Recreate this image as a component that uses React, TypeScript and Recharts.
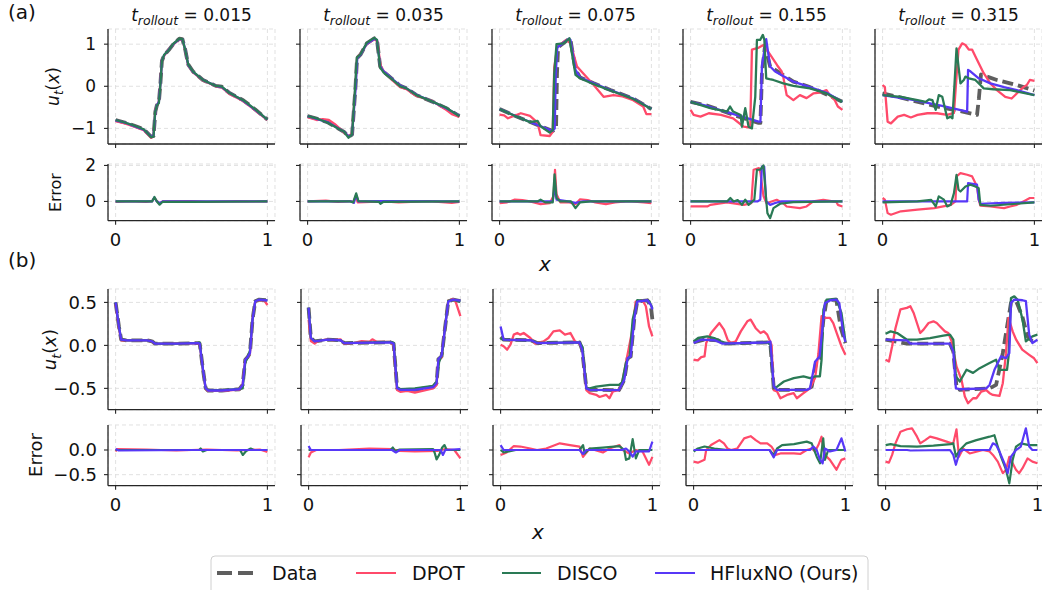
import { LineChart, Line, XAxis, YAxis, CartesianGrid } from "recharts"

type Pt = [number, number]

const FONT = "'DejaVu Sans', sans-serif"
const RED = "#ff4a6a"
const GREEN = "#2a7a55"
const BLUE = "#5738f7"
const GRAY = "#5e5e5e"
const AXIS = "#262626"

const rollouts = ["0.015", "0.035", "0.075", "0.155", "0.315"]
const xTicks = [0, 1]
const aMainTicks = [-1, 0, 1]
const aErrTicks = [0, 2]
const bMainTicks = [-0.5, 0, 0.5]
const bErrTicks = [-0.5, 0]
const legendNames = ["Data", "DPOT", "DISCO", "HFluxNO (Ours)"]

// ---- (a) t = 0.015
const a1Data: Pt[] = [[0,-0.8],[0.06,-0.86],[0.12,-0.93],[0.185,-1.02],[0.235,-1.2],[0.25,-1.18],[0.262,-0.6],[0.272,-0.45],[0.285,-0.38],[0.295,0.05],[0.305,0.6],[0.32,0.74],[0.35,0.86],[0.38,1.0],[0.42,1.13],[0.44,1.12],[0.458,0.88],[0.478,0.52],[0.51,0.35],[0.575,0.15],[0.66,0.01],[0.7,-0.01],[0.75,-0.16],[0.84,-0.33],[0.92,-0.55],[1,-0.79]]
const a1Dpot: Pt[] = [[0,-0.83],[0.06,-0.88],[0.12,-0.95],[0.185,-1.04],[0.235,-1.22],[0.25,-1.15],[0.262,-0.55],[0.272,-0.47],[0.285,-0.36],[0.295,0.08],[0.305,0.62],[0.32,0.72],[0.35,0.88],[0.38,0.99],[0.42,1.12],[0.44,1.11],[0.458,0.86],[0.478,0.5],[0.51,0.33],[0.575,0.14],[0.66,0.0],[0.7,-0.03],[0.75,-0.18],[0.84,-0.35],[0.92,-0.57],[1,-0.8]]
const a1Disco: Pt[] = [[0,-0.8],[0.06,-0.86],[0.12,-0.93],[0.185,-1.02],[0.235,-1.21],[0.25,-1.19],[0.26,-0.62],[0.272,-0.46],[0.285,-0.4],[0.295,0.04],[0.305,0.6],[0.32,0.75],[0.35,0.86],[0.38,1.01],[0.42,1.13],[0.44,1.12],[0.458,0.87],[0.478,0.52],[0.51,0.35],[0.575,0.15],[0.66,0.01],[0.7,-0.01],[0.75,-0.16],[0.84,-0.33],[0.92,-0.55],[1,-0.79]]
const a1Hflux: Pt[] = [[0,-0.81],[0.06,-0.86],[0.12,-0.94],[0.185,-1.03],[0.235,-1.2],[0.25,-1.17],[0.262,-0.58],[0.272,-0.45],[0.285,-0.37],[0.295,0.06],[0.305,0.61],[0.32,0.74],[0.35,0.87],[0.38,1.0],[0.42,1.12],[0.44,1.12],[0.458,0.88],[0.478,0.51],[0.51,0.34],[0.575,0.15],[0.66,0.01],[0.7,-0.02],[0.75,-0.16],[0.84,-0.34],[0.92,-0.56],[1,-0.79]]
const a1ErrDpot: Pt[] = [[0,-0.02],[0.1,0.02],[0.2,-0.03],[0.24,0.02],[0.255,0.2],[0.27,0.05],[0.29,-0.12],[0.31,0.0],[0.5,0.02],[0.6,-0.02],[0.8,0.02],[1,0]]
const a1ErrDisco: Pt[] = [[0,0],[0.24,0],[0.256,0.25],[0.272,0.0],[0.29,-0.18],[0.31,-0.02],[0.5,-0.02],[1,0]]
const a1ErrHflux: Pt[] = [[0,0],[0.24,0],[0.255,0.22],[0.27,0.02],[0.29,-0.1],[0.31,0],[1,0]]

// ---- (a) t = 0.035
const a2Data: Pt[] = [[0,-0.71],[0.065,-0.77],[0.13,-0.85],[0.24,-1.08],[0.27,-1.2],[0.293,-1.15],[0.315,-0.05],[0.326,0.67],[0.348,0.75],[0.39,1.02],[0.44,1.14],[0.457,1.1],[0.478,0.47],[0.5,0.35],[0.565,0.15],[0.61,0.01],[0.652,-0.05],[0.717,-0.21],[0.826,-0.37],[0.913,-0.52],[1,-0.71]]
const a2Dpot: Pt[] = [[0,-0.73],[0.06,-0.8],[0.1,-0.78],[0.14,-0.8],[0.18,-0.9],[0.24,-1.1],[0.27,-1.18],[0.293,-1.13],[0.315,0.0],[0.326,0.68],[0.348,0.77],[0.39,1.0],[0.44,1.12],[0.46,1.06],[0.48,0.5],[0.5,0.37],[0.565,0.12],[0.61,-0.02],[0.652,-0.07],[0.717,-0.23],[0.826,-0.36],[0.913,-0.56],[0.95,-0.66],[1,-0.73]]
const a2Disco: Pt[] = [[0,-0.71],[0.065,-0.77],[0.13,-0.86],[0.24,-1.08],[0.27,-1.22],[0.293,-1.14],[0.313,-0.02],[0.324,0.68],[0.348,0.76],[0.39,1.03],[0.44,1.15],[0.457,1.1],[0.478,0.45],[0.5,0.33],[0.565,0.14],[0.61,0.0],[0.652,-0.05],[0.717,-0.21],[0.826,-0.37],[0.913,-0.51],[1,-0.71]]
const a2Hflux: Pt[] = [[0,-0.71],[0.065,-0.78],[0.13,-0.85],[0.24,-1.08],[0.27,-1.19],[0.293,-1.15],[0.316,-0.05],[0.327,0.67],[0.348,0.75],[0.39,1.01],[0.44,1.13],[0.457,1.1],[0.478,0.48],[0.5,0.36],[0.565,0.15],[0.61,0.02],[0.652,-0.05],[0.717,-0.2],[0.826,-0.37],[0.913,-0.52],[1,-0.7]]
const a2ErrDpot: Pt[] = [[0,0],[0.12,0.05],[0.2,-0.02],[0.28,0.02],[0.3,-0.05],[0.318,0.3],[0.33,-0.05],[0.5,0],[0.6,-0.05],[0.8,0.02],[0.95,-0.08],[1,-0.02]]
const a2ErrDisco: Pt[] = [[0,0],[0.28,0],[0.3,-0.05],[0.32,0.45],[0.335,0.02],[0.47,-0.02],[0.48,-0.13],[0.5,-0.02],[1,0]]
const a2ErrHflux: Pt[] = [[0,0],[0.29,0],[0.305,-0.08],[0.32,0.35],[0.335,0],[0.5,0.02],[1,0]]

// ---- (a) t = 0.075
const a3Data: Pt[] = [[0,-0.54],[0.14,-0.76],[0.25,-0.92],[0.35,-1.06],[0.372,-1.0],[0.378,0.3],[0.385,0.9],[0.39,0.94],[0.457,1.13],[0.467,1.1],[0.5,0.39],[0.53,0.21],[0.62,0.07],[0.73,-0.09],[0.88,-0.29],[1,-0.54]]
const a3Dpot: Pt[] = [[0,-0.67],[0.03,-0.69],[0.055,-0.76],[0.14,-0.64],[0.2,-0.7],[0.25,-0.86],[0.27,-1.16],[0.33,-1.18],[0.35,-1.08],[0.36,0.45],[0.38,0.94],[0.44,1.1],[0.467,1.02],[0.51,0.47],[0.55,0.31],[0.62,0.03],[0.685,-0.25],[0.75,-0.21],[0.81,-0.24],[0.88,-0.33],[0.946,-0.48],[0.967,-0.66],[1,-0.66]]
const a3Disco: Pt[] = [[0,-0.54],[0.1,-0.7],[0.2,-0.85],[0.25,-0.82],[0.27,-0.95],[0.33,-1.1],[0.35,-1.04],[0.36,0.3],[0.375,1.0],[0.42,1.02],[0.46,1.14],[0.5,0.27],[0.53,0.19],[0.62,0.05],[0.73,-0.1],[0.88,-0.3],[1,-0.54]]
const a3Hflux: Pt[] = [[0,-0.54],[0.14,-0.76],[0.25,-0.92],[0.348,-1.06],[0.363,-1.0],[0.37,0.3],[0.38,0.92],[0.457,1.13],[0.467,1.1],[0.5,0.39],[0.53,0.21],[0.62,0.07],[0.73,-0.09],[0.88,-0.29],[1,-0.54]]
const a3ErrDpot: Pt[] = [[0,-0.1],[0.05,-0.05],[0.1,0.1],[0.15,0.08],[0.2,0.0],[0.27,-0.15],[0.33,-0.1],[0.355,0.3],[0.365,1.75],[0.375,0.4],[0.4,-0.05],[0.46,-0.05],[0.5,-0.15],[0.53,0.12],[0.58,0.08],[0.63,-0.05],[0.7,-0.15],[0.76,-0.05],[0.85,0.02],[0.95,-0.05],[1,-0.1]]
const a3ErrDisco: Pt[] = [[0,0],[0.25,0.0],[0.27,0.1],[0.3,-0.05],[0.35,-0.05],[0.362,1.5],[0.375,0.2],[0.4,0.0],[0.47,0.0],[0.5,-0.37],[0.53,-0.05],[0.6,0.0],[1,0]]
const a3ErrHflux: Pt[] = [[0,0],[0.35,0],[0.365,0.9],[0.375,0.1],[0.45,0],[0.5,-0.08],[0.55,0],[1,0]]

// ---- (a) t = 0.155
const a4Data: Pt[] = [[0,-0.37],[0.1,-0.45],[0.2,-0.57],[0.3,-0.7],[0.448,-0.87],[0.46,-0.87],[0.47,0.3],[0.49,0.95],[0.524,0.47],[0.557,0.39],[0.677,0.11],[0.786,-0.02],[0.9,-0.2],[1,-0.37]]
const a4Dpot: Pt[] = [[0,-0.56],[0.02,-0.68],[0.065,-0.72],[0.12,-0.64],[0.2,-0.68],[0.28,-0.76],[0.35,-0.96],[0.393,-0.98],[0.404,0.87],[0.45,0.92],[0.48,0.98],[0.524,0.75],[0.57,0.5],[0.6,0.35],[0.61,0.23],[0.633,-0.21],[0.677,-0.33],[0.72,-0.21],[0.764,-0.28],[0.808,-0.17],[0.852,-0.15],[0.895,-0.09],[0.917,-0.21],[0.95,-0.33],[0.97,-0.48],[1,-0.56]]
const a4Disco: Pt[] = [[0,-0.37],[0.13,-0.52],[0.24,-0.6],[0.26,-0.48],[0.28,-0.6],[0.33,-0.68],[0.338,-0.96],[0.36,-0.52],[0.382,-0.96],[0.404,-1.0],[0.426,-0.25],[0.437,1.1],[0.458,1.1],[0.476,1.22],[0.486,1.1],[0.498,0.19],[0.52,0.17],[0.545,0.15],[0.611,0.07],[0.677,0.01],[0.786,-0.05],[0.895,-0.17],[1,-0.37]]
const a4Hflux: Pt[] = [[0,-0.37],[0.1,-0.46],[0.2,-0.57],[0.3,-0.68],[0.448,-0.84],[0.46,-0.84],[0.47,0.5],[0.498,1.12],[0.524,0.47],[0.557,0.35],[0.677,0.11],[0.786,-0.02],[0.9,-0.16],[1,-0.37]]
const a4ErrDpot: Pt[] = [[0,-0.28],[0.11,-0.28],[0.13,-0.19],[0.24,-0.05],[0.35,-0.19],[0.4,-0.1],[0.415,1.76],[0.45,1.85],[0.46,1.6],[0.48,0.3],[0.5,-0.1],[0.567,0.09],[0.61,-0.1],[0.633,-0.28],[0.72,-0.37],[0.764,-0.28],[0.808,0.0],[0.874,0.09],[0.96,-0.02],[0.97,-0.19],[1,-0.28]]
const a4ErrDisco: Pt[] = [[0,0],[0.24,0],[0.262,0.19],[0.284,0],[0.31,0.08],[0.338,-0.19],[0.36,0.1],[0.382,-0.19],[0.42,0.1],[0.437,1.76],[0.458,1.76],[0.48,2.0],[0.498,0.1],[0.506,-0.65],[0.524,-0.93],[0.546,-0.37],[0.59,-0.13],[0.677,-0.04],[1,0]]
const a4ErrHflux: Pt[] = [[0,0],[0.44,0],[0.459,0.09],[0.47,1.94],[0.485,1.94],[0.498,0.0],[0.524,-0.19],[0.557,-0.09],[0.6,0],[1,0]]

// ---- (a) t = 0.315
const a5Data: Pt[] = [[0,-0.17],[0.1,-0.25],[0.2,-0.34],[0.3,-0.43],[0.4,-0.51],[0.5,-0.58],[0.622,-0.68],[0.634,-0.3],[0.648,0.28],[0.753,0.15],[0.884,0.03],[1,-0.1]]
const a5Dpot: Pt[] = [[0,0.03],[0.015,-0.02],[0.033,-0.84],[0.055,-0.88],[0.1,-0.72],[0.142,-0.68],[0.186,-0.74],[0.23,-0.68],[0.295,-0.64],[0.36,-0.64],[0.426,-0.68],[0.47,-0.63],[0.487,0.23],[0.5,0.87],[0.524,1.02],[0.546,0.98],[0.568,0.87],[0.59,0.87],[0.622,0.63],[0.666,0.31],[0.71,0.07],[0.753,-0.09],[0.808,-0.25],[0.85,-0.29],[0.884,-0.17],[0.928,-0.02],[0.95,0.03],[0.97,0.15],[1,0.13]]
const a5Disco: Pt[] = [[0,-0.21],[0.12,-0.25],[0.23,-0.33],[0.284,-0.37],[0.306,-0.31],[0.328,-0.33],[0.35,-0.56],[0.37,-0.21],[0.393,-0.25],[0.426,-0.76],[0.448,-0.72],[0.46,-0.76],[0.474,0.07],[0.487,0.9],[0.5,0.47],[0.513,0.07],[0.535,0.15],[0.546,0.23],[0.568,0.19],[0.611,0.15],[0.644,0.03],[0.666,-0.05],[0.73,-0.07],[0.84,-0.09],[1,-0.21]]
const a5Hflux: Pt[] = [[0,-0.21],[0.2,-0.32],[0.4,-0.47],[0.557,-0.6],[0.563,0.39],[0.58,0.35],[0.633,0.19],[0.71,0.07],[0.8,-0.02],[0.884,-0.09],[1,-0.21]]
const a5ErrDpot: Pt[] = [[0,0.19],[0.015,0.1],[0.033,-0.65],[0.055,-0.74],[0.12,-0.55],[0.23,-0.46],[0.34,-0.37],[0.45,-0.19],[0.48,0.0],[0.487,1.39],[0.513,1.57],[0.557,1.48],[0.59,1.39],[0.611,1.02],[0.622,0.83],[0.633,0.1],[0.644,-0.24],[0.71,-0.28],[0.8,-0.37],[0.84,-0.28],[0.884,-0.19],[0.928,0],[0.97,0.19],[1,0.19]]
const a5ErrDisco: Pt[] = [[0,-0.05],[0.23,0],[0.32,0.09],[0.35,-0.28],[0.37,0.28],[0.404,0.1],[0.426,-0.28],[0.448,-0.19],[0.47,0.46],[0.487,1.48],[0.5,0.65],[0.513,0.55],[0.546,0.83],[0.579,0.93],[0.611,0.83],[0.633,0.74],[0.644,-0.19],[0.71,-0.24],[0.884,-0.13],[1,-0.05]]
const a5ErrHflux: Pt[] = [[0,0],[0.557,0],[0.563,1.02],[0.622,0.93],[0.633,0.1],[0.644,-0.13],[0.8,-0.08],[1,-0.05]]

// ---- (b) t = 0.015
const b1Data: Pt[] = [[0,0.5],[0.022,0.22],[0.037,0.066],[0.076,0.058],[0.207,0.058],[0.24,0.047],[0.26,0.02],[0.4,0.02],[0.543,0.027],[0.554,0.02],[0.576,-0.285],[0.593,-0.498],[0.609,-0.525],[0.7,-0.525],[0.815,-0.51],[0.837,-0.46],[0.854,-0.167],[0.87,-0.136],[0.885,-0.09],[0.902,0.3],[0.92,0.514],[0.946,0.533],[0.99,0.525],[1,0.52]]
const b1Dpot: Pt[] = [[0,0.48],[0.022,0.2],[0.037,0.06],[0.076,0.062],[0.15,0.055],[0.207,0.062],[0.24,0.045],[0.26,0.018],[0.4,0.024],[0.543,0.025],[0.554,0.018],[0.576,-0.29],[0.593,-0.505],[0.609,-0.53],[0.7,-0.53],[0.815,-0.515],[0.837,-0.46],[0.854,-0.17],[0.87,-0.14],[0.885,-0.09],[0.902,0.31],[0.92,0.51],[0.946,0.53],[0.98,0.52],[1,0.47]]
const b1Disco: Pt[] = [[0,0.5],[0.022,0.22],[0.037,0.066],[0.076,0.058],[0.207,0.058],[0.24,0.047],[0.26,0.02],[0.4,0.02],[0.543,0.03],[0.554,0.035],[0.576,-0.29],[0.593,-0.5],[0.609,-0.52],[0.7,-0.52],[0.815,-0.505],[0.837,-0.5],[0.854,-0.2],[0.87,-0.14],[0.885,-0.06],[0.902,0.3],[0.92,0.514],[0.946,0.533],[0.99,0.525],[1,0.52]]
const b1Hflux: Pt[] = [[0,0.5],[0.022,0.22],[0.037,0.066],[0.076,0.058],[0.207,0.058],[0.24,0.047],[0.26,0.02],[0.4,0.02],[0.543,0.027],[0.554,0.02],[0.576,-0.285],[0.593,-0.498],[0.609,-0.525],[0.7,-0.525],[0.815,-0.51],[0.837,-0.46],[0.854,-0.167],[0.87,-0.136],[0.885,-0.09],[0.902,0.3],[0.92,0.514],[0.946,0.533],[0.99,0.525],[1,0.52]]
const b1ErrDpot: Pt[] = [[0,-0.03],[0.01,0.02],[0.2,0.01],[0.4,-0.01],[0.6,0.01],[0.8,-0.01],[0.95,0.01],[1,-0.04]]
const b1ErrDisco: Pt[] = [[0,0],[0.55,0],[0.56,0.03],[0.575,-0.03],[0.6,0],[0.82,0],[0.838,-0.1],[0.86,-0.02],[0.89,0.03],[0.91,0],[1,0]]
const b1ErrHflux: Pt[] = [[0,0.02],[0.02,-0.01],[0.5,0],[1,0]]

// ---- (b) t = 0.035
const b2Data: Pt[] = [[0,0.44],[0.015,0.086],[0.04,0.047],[0.126,0.066],[0.21,0.06],[0.235,0.027],[0.54,0.035],[0.56,0.02],[0.583,-0.498],[0.604,-0.517],[0.7,-0.517],[0.82,-0.486],[0.843,-0.44],[0.855,-0.16],[0.876,-0.128],[0.9,0.22],[0.92,0.51],[0.952,0.533],[1,0.514]]
const b2Dpot: Pt[] = [[0,0.3],[0.015,0.05],[0.04,0.02],[0.06,0.05],[0.12,0.07],[0.16,0.06],[0.21,0.07],[0.235,0.02],[0.3,0.03],[0.35,0.05],[0.4,0.04],[0.42,0.07],[0.45,0.04],[0.54,0.04],[0.56,0.0],[0.583,-0.52],[0.604,-0.54],[0.65,-0.53],[0.7,-0.55],[0.75,-0.53],[0.82,-0.5],[0.843,-0.46],[0.855,-0.18],[0.876,-0.14],[0.9,0.24],[0.92,0.52],[0.952,0.54],[0.97,0.5],[1,0.34]]
const b2Disco: Pt[] = [[0,0.44],[0.015,0.086],[0.04,0.05],[0.126,0.066],[0.21,0.06],[0.235,0.027],[0.54,0.04],[0.56,0.03],[0.583,-0.49],[0.604,-0.51],[0.7,-0.5],[0.82,-0.47],[0.843,-0.42],[0.86,-0.19],[0.88,-0.1],[0.9,0.24],[0.92,0.52],[0.952,0.53],[1,0.51]]
const b2Hflux: Pt[] = [[0,0.44],[0.015,0.086],[0.04,0.047],[0.126,0.066],[0.21,0.06],[0.235,0.027],[0.54,0.035],[0.56,0.02],[0.583,-0.498],[0.604,-0.517],[0.7,-0.517],[0.82,-0.486],[0.843,-0.44],[0.855,-0.16],[0.876,-0.12],[0.9,0.22],[0.92,0.51],[0.952,0.533],[1,0.52]]
const b2ErrDpot: Pt[] = [[0,-0.15],[0.015,-0.05],[0.05,0.0],[0.2,0.0],[0.4,0.03],[0.55,0.02],[0.6,-0.02],[0.7,-0.03],[0.85,-0.02],[0.9,0.02],[0.96,0.0],[1,-0.17]]
const b2ErrDisco: Pt[] = [[0,0],[0.54,0],[0.555,0.05],[0.57,-0.02],[0.6,0.01],[0.82,0.02],[0.83,-0.05],[0.843,-0.19],[0.86,-0.1],[0.88,0.05],[0.895,0.1],[0.91,0.0],[1,0]]
const b2ErrHflux: Pt[] = [[0,0.08],[0.015,0.0],[0.55,0],[0.575,-0.05],[0.6,0],[0.87,0],[0.885,-0.1],[0.9,0],[1,0.02]]

// ---- (b) t = 0.075
const b3Data: Pt[] = [[0,0.1],[0.02,0.066],[0.2,0.06],[0.24,0.027],[0.52,0.035],[0.537,-0.05],[0.565,-0.5],[0.587,-0.517],[0.78,-0.52],[0.815,-0.4],[0.837,-0.148],[0.857,-0.13],[0.88,0.3],[0.9,0.51],[0.967,0.525],[0.99,0.455],[1,0.3]]
const b3Dpot: Pt[] = [[0,0.008],[0.02,-0.01],[0.043,-0.05],[0.065,0.008],[0.087,0.125],[0.11,0.144],[0.13,0.125],[0.152,0.144],[0.196,0.086],[0.228,0.02],[0.283,0.047],[0.315,0.086],[0.348,0.163],[0.39,0.175],[0.424,0.125],[0.46,0.144],[0.49,0.047],[0.522,0.02],[0.54,-0.05],[0.565,-0.52],[0.587,-0.556],[0.63,-0.575],[0.652,-0.6],[0.695,-0.575],[0.717,-0.615],[0.74,-0.535],[0.78,-0.52],[0.8,-0.44],[0.826,-0.2],[0.848,0.0],[0.87,0.2],[0.89,0.51],[0.935,0.525],[0.957,0.455],[0.978,0.22],[1,0.105]]
const b3Disco: Pt[] = [[0,0.08],[0.02,0.066],[0.2,0.06],[0.24,0.03],[0.52,0.035],[0.54,-0.02],[0.565,-0.5],[0.587,-0.5],[0.63,-0.48],[0.72,-0.46],[0.78,-0.46],[0.8,-0.43],[0.826,-0.2],[0.85,-0.13],[0.87,0.3],[0.9,0.525],[0.98,0.515],[1,0.43]]
const b3Hflux: Pt[] = [[0,0.22],[0.02,0.066],[0.2,0.06],[0.24,0.027],[0.52,0.035],[0.537,-0.05],[0.565,-0.5],[0.587,-0.517],[0.78,-0.52],[0.815,-0.4],[0.837,-0.148],[0.857,-0.13],[0.88,0.3],[0.9,0.51],[0.967,0.525],[0.99,0.47],[1,0.42]]
const b3ErrDpot: Pt[] = [[0,-0.1],[0.04,-0.05],[0.087,0.08],[0.13,0.07],[0.196,0.03],[0.24,0.0],[0.3,0.03],[0.39,0.135],[0.457,0.1],[0.52,0.07],[0.543,-0.14],[0.587,0.03],[0.674,-0.05],[0.717,0.03],[0.783,0.1],[0.804,0.0],[0.848,-0.07],[0.891,0.0],[0.935,-0.03],[0.978,-0.3],[1,-0.14]]
const b3ErrDisco: Pt[] = [[0,0],[0.02,-0.05],[0.1,0],[0.52,0],[0.543,0.1],[0.554,-0.07],[0.587,0.03],[0.674,0.05],[0.783,0.08],[0.815,0],[0.826,-0.2],[0.848,-0.17],[0.87,0.22],[0.891,-0.17],[0.913,0],[1,0]]
const b3ErrHflux: Pt[] = [[0,0.1],[0.02,0],[0.52,0],[0.543,-0.08],[0.565,0],[0.8,0],[0.826,0.03],[0.848,-0.03],[0.87,-0.135],[0.891,-0.03],[0.978,-0.03],[1,0.17]]

// ---- (b) t = 0.155
const b4Data: Pt[] = [[0,0.035],[0.07,0.066],[0.16,0.06],[0.2,0.02],[0.485,0.035],[0.506,0.01],[0.528,-0.5],[0.55,-0.517],[0.745,-0.517],[0.778,-0.48],[0.81,-0.167],[0.83,-0.15],[0.855,0.3],[0.876,0.525],[0.94,0.533],[0.97,0.2],[1,0.027]]
const b4Dpot: Pt[] = [[0,-0.167],[0.028,-0.175],[0.05,-0.136],[0.072,-0.128],[0.083,0.027],[0.115,0.144],[0.17,0.26],[0.2,0.183],[0.224,0.066],[0.246,0.027],[0.278,0.047],[0.311,0.163],[0.354,0.28],[0.376,0.3],[0.409,0.2],[0.441,0.144],[0.463,0.163],[0.485,0.125],[0.513,0.008],[0.528,-0.52],[0.55,-0.537],[0.572,-0.615],[0.615,-0.576],[0.659,-0.556],[0.68,-0.615],[0.724,-0.556],[0.767,-0.5],[0.8,-0.38],[0.822,-0.1],[0.843,0.34],[0.865,0.32],[0.898,0.32],[0.92,0.26],[0.943,0.144],[0.974,-0.01],[1,-0.11]]
const b4Disco: Pt[] = [[0,0.047],[0.03,0.086],[0.09,0.105],[0.136,0.086],[0.18,0.047],[0.22,0.02],[0.485,0.035],[0.506,0.008],[0.528,-0.5],[0.55,-0.48],[0.595,-0.42],[0.66,-0.38],[0.724,-0.36],[0.767,-0.38],[0.8,-0.36],[0.832,-0.36],[0.843,-0.167],[0.855,0.416],[0.876,0.533],[0.94,0.54],[0.974,0.377],[1,0.047]]
const b4Hflux: Pt[] = [[0,0.027],[0.05,0.066],[0.14,0.06],[0.19,0.02],[0.485,0.035],[0.506,0.045],[0.528,-0.48],[0.55,-0.517],[0.745,-0.517],[0.767,-0.5],[0.8,-0.19],[0.83,-0.128],[0.865,0.49],[0.9,0.525],[0.94,0.533],[0.96,0.49],[0.985,0.144],[1,0.04]]
const b4ErrDpot: Pt[] = [[0,-0.236],[0.028,-0.257],[0.072,-0.2],[0.083,0.0],[0.115,0.1],[0.17,0.2],[0.2,0.135],[0.224,0.03],[0.246,0.0],[0.287,0.03],[0.333,0.236],[0.376,0.28],[0.409,0.2],[0.441,0.135],[0.485,0.135],[0.513,0.07],[0.528,0.0],[0.54,-0.1],[0.572,-0.07],[0.66,-0.07],[0.702,-0.08],[0.745,0.0],[0.778,0.03],[0.8,-0.03],[0.822,0.1],[0.843,0.27],[0.854,0.0],[0.876,-0.135],[0.898,-0.2],[0.941,-0.4],[0.974,-0.2],[1,-0.17]]
const b4ErrDisco: Pt[] = [[0,-0.03],[0.028,0.03],[0.072,0.07],[0.137,0.03],[0.224,0],[0.5,0],[0.528,-0.1],[0.55,0.03],[0.583,0.1],[0.661,0.12],[0.745,0.17],[0.778,0.135],[0.811,-0.135],[0.833,-0.27],[0.854,0.236],[0.865,-0.2],[0.887,0],[1,0]]
const b4ErrHflux: Pt[] = [[0,0],[0.5,0],[0.528,-0.15],[0.55,0],[0.767,0],[0.789,0.07],[0.811,0],[0.833,-0.2],[0.85,-0.27],[0.865,0.03],[0.898,-0.03],[0.941,0],[0.974,0.236],[1,-0.03]]

// ---- (b) t = 0.315
const b5Data: Pt[] = [[0,0.066],[0.14,0.02],[0.424,0.02],[0.446,-0.07],[0.467,-0.48],[0.489,-0.517],[0.685,-0.5],[0.728,-0.46],[0.772,-0.09],[0.804,0.26],[0.826,0.494],[0.86,0.514],[0.9,0.34],[0.935,0.105],[0.967,0.047],[1,0.047]]
const b5Dpot: Pt[] = [[0,-0.167],[0.022,-0.187],[0.043,-0.01],[0.065,0.2],[0.098,0.42],[0.14,0.436],[0.163,0.455],[0.185,0.377],[0.228,0.144],[0.25,0.183],[0.283,0.26],[0.315,0.28],[0.337,0.26],[0.359,0.22],[0.391,0.163],[0.413,0.144],[0.435,0.047],[0.467,-0.245],[0.5,-0.4],[0.522,-0.595],[0.543,-0.673],[0.576,-0.615],[0.598,-0.615],[0.63,-0.537],[0.663,-0.52],[0.685,-0.556],[0.707,-0.576],[0.75,-0.588],[0.772,-0.44],[0.793,-0.09],[0.81,0.32],[0.837,0.163],[0.86,0.066],[0.9,-0.05],[0.946,-0.11],[0.978,-0.15],[1,-0.206]]
const b5Disco: Pt[] = [[0,0.136],[0.033,0.163],[0.076,0.144],[0.141,0.066],[0.207,0.066],[0.293,0.085],[0.38,0.113],[0.424,0.125],[0.446,0.066],[0.463,-0.36],[0.489,-0.42],[0.533,-0.284],[0.576,-0.32],[0.62,-0.265],[0.685,-0.206],[0.728,-0.167],[0.75,-0.284],[0.8,-0.284],[0.81,-0.128],[0.826,0.55],[0.848,0.57],[0.87,0.53],[0.902,0.3],[0.924,0.047],[0.967,0.105],[1,0.125]]
const b5Hflux: Pt[] = [[0,0.066],[0.14,0.058],[0.163,0.02],[0.424,0.02],[0.446,-0.07],[0.463,-0.5],[0.489,-0.51],[0.663,-0.5],[0.685,-0.46],[0.717,-0.284],[0.76,-0.128],[0.793,-0.148],[0.815,-0.09],[0.826,0.494],[0.848,0.533],[0.902,0.525],[0.924,0.514],[0.946,0.125],[0.967,0.027],[1,0.066]]
const b5ErrDpot: Pt[] = [[0,-0.236],[0.022,-0.257],[0.043,-0.1],[0.065,0.135],[0.098,0.37],[0.141,0.42],[0.174,0.44],[0.207,0.27],[0.228,0.135],[0.261,0.2],[0.293,0.27],[0.337,0.236],[0.402,0.17],[0.435,0.135],[0.446,0.135],[0.467,0.42],[0.483,-0.135],[0.511,0.03],[0.554,-0.07],[0.641,0.0],[0.685,-0.03],[0.707,-0.1],[0.739,-0.236],[0.772,-0.47],[0.793,-0.4],[0.815,-0.14],[0.837,-0.27],[0.859,-0.4],[0.88,-0.47],[0.902,-0.37],[0.935,-0.17],[0.967,-0.236],[1,-0.27]]
const b5ErrDisco: Pt[] = [[0,0.1],[0.033,0.12],[0.098,0.08],[0.207,0.07],[0.315,0.09],[0.43,0.12],[0.446,0.135],[0.463,-0.135],[0.489,0.0],[0.533,0.135],[0.598,0.2],[0.685,0.27],[0.717,0.3],[0.739,0.07],[0.76,-0.135],[0.793,-0.4],[0.815,-0.676],[0.837,-0.2],[0.859,0.068],[0.891,0.135],[0.946,0.1],[1,0.1]]
const b5ErrHflux: Pt[] = [[0,0],[0.141,0],[0.163,-0.01],[0.424,0],[0.446,-0.1],[0.463,-0.3],[0.489,-0.03],[0.511,0],[0.685,0],[0.707,0.135],[0.728,0.1],[0.75,-0.03],[0.783,-0.27],[0.804,-0.47],[0.826,-0.135],[0.859,0],[0.891,0.07],[0.924,0.44],[0.946,0.07],[0.967,0],[1,0]]

const aMain = [
  [a1Data, a1Dpot, a1Disco, a1Hflux],
  [a2Data, a2Dpot, a2Disco, a2Hflux],
  [a3Data, a3Dpot, a3Disco, a3Hflux],
  [a4Data, a4Dpot, a4Disco, a4Hflux],
  [a5Data, a5Dpot, a5Disco, a5Hflux],
]
const aErr = [
  [a1ErrDpot, a1ErrDisco, a1ErrHflux],
  [a2ErrDpot, a2ErrDisco, a2ErrHflux],
  [a3ErrDpot, a3ErrDisco, a3ErrHflux],
  [a4ErrDpot, a4ErrDisco, a4ErrHflux],
  [a5ErrDpot, a5ErrDisco, a5ErrHflux],
]
const bMain = [
  [b1Data, b1Dpot, b1Disco, b1Hflux],
  [b2Data, b2Dpot, b2Disco, b2Hflux],
  [b3Data, b3Dpot, b3Disco, b3Hflux],
  [b4Data, b4Dpot, b4Disco, b4Hflux],
  [b5Data, b5Dpot, b5Disco, b5Hflux],
]
const bErr = [
  [b1ErrDpot, b1ErrDisco, b1ErrHflux],
  [b2ErrDpot, b2ErrDisco, b2ErrHflux],
  [b3ErrDpot, b3ErrDisco, b3ErrHflux],
  [b4ErrDpot, b4ErrDisco, b4ErrHflux],
  [b5ErrDpot, b5ErrDisco, b5ErrHflux],
]

const aLefts = [108, 300, 492, 683, 875]
const bLefts = [108.3, 300.7, 493.3, 685.7, 878.3]
const PW = 167

const minus = (s: string) => s.replace("-", "\u2212")
const fmtA = (v: number) => minus(String(v))
const fmtB = (v: number) => minus(v.toFixed(1))

type Series = { pts: Pt[]; color: string; width: number; dash?: string }

function Panel(props: {
  left: number; top: number; height: number
  yDomain: [number, number]; yTicks: number[]
  yFmt: (v: number) => string; showY: boolean; showX: boolean
  yFont: number; yGap: number; series: Series[]
}) {
  const { left, top, height, yDomain, yTicks, yFmt, showY, showX, yFont, yGap, series } = props
  const YW = 60, MT = 14, MR = 8, XH = 36
  return (
    <div style={{ position: "absolute", left: left - YW, top: top - MT }}>
      <LineChart width={YW + PW + MR} height={MT + height + XH} margin={{ top: MT, right: MR, bottom: 0, left: 0 }}>
        <CartesianGrid strokeDasharray="4 3" stroke="#dedede" strokeWidth={0.9} />
        <XAxis type="number" dataKey="x" domain={[-0.05, 1.05]} ticks={xTicks} interval={0} allowDataOverflow
          height={XH} tickSize={4} tickMargin={9}
          axisLine={{ stroke: AXIS, strokeWidth: 1.3 }} tickLine={{ stroke: AXIS, strokeWidth: 1.1 }}
          tick={{ fontSize: 18, fill: "#111", fontFamily: FONT }}
          tickFormatter={(v) => (showX ? String(v) : "")} />
        <YAxis type="number" domain={yDomain} ticks={yTicks} interval={0} allowDataOverflow
          width={YW} tickSize={4} tickMargin={yGap}
          axisLine={{ stroke: AXIS, strokeWidth: 1.3 }} tickLine={{ stroke: AXIS, strokeWidth: 1.1 }}
          tick={{ fontSize: yFont, fill: "#111", fontFamily: FONT }}
          tickFormatter={(v) => (showY ? yFmt(v) : "")} />
        {series.map((s, i) => (
          <Line key={i} data={s.pts.map(([x, y]) => ({ x, y }))} dataKey="y" type="linear"
            stroke={s.color} strokeWidth={s.width} strokeDasharray={s.dash} dot={false}
            isAnimationActive={false} strokeLinejoin="round" />
        ))}
      </LineChart>
    </div>
  )
}

function mainSeries(set: Pt[][], greenTop: boolean): Series[] {
  const [d, p, g, h] = set
  const data: Series = { pts: d, color: GRAY, width: 3.8, dash: "11 5" }
  const red: Series = { pts: p, color: RED, width: 2.3 }
  const green: Series = { pts: g, color: GREEN, width: 2.3 }
  const blue: Series = { pts: h, color: BLUE, width: 2.3 }
  return greenTop ? [data, red, blue, green] : [data, red, green, blue]
}

function errSeries(set: Pt[][], greenTop: boolean): Series[] {
  const [p, g, h] = set
  const red: Series = { pts: p, color: RED, width: 2.2 }
  const green: Series = { pts: g, color: GREEN, width: 2.2 }
  const blue: Series = { pts: h, color: BLUE, width: 2.2 }
  return greenTop ? [red, blue, green] : [red, green, blue]
}

function Ut({ x, y, size }: { x: number; y: number; size: number }) {
  return (
    <text transform={`translate(${x},${y}) rotate(-90)`} textAnchor="middle" fontSize={size} fill="#111">
      <tspan fontStyle="italic">u</tspan>
      <tspan fontStyle="italic" fontSize={size * 0.7} dy={size * 0.25}>t</tspan>
      <tspan dy={-size * 0.25}>(</tspan>
      <tspan fontStyle="italic">x</tspan>
      <tspan>)</tspan>
    </text>
  )
}

export default function App() {
  const legendItems = [
    { x1: 217, x2: 254, tx: 272, color: GRAY, dash: "15 6", w: 4 },
    { x1: 356, x2: 396, tx: 412, color: RED, dash: undefined, w: 2.2 },
    { x1: 502, x2: 541, tx: 557, color: GREEN, dash: undefined, w: 2.2 },
    { x1: 655, x2: 695, tx: 710, color: BLUE, dash: undefined, w: 2.2 },
  ]
  return (
    <div style={{ position: "absolute", left: 0, top: 0, width: 1042, height: 590, background: "#fff", overflow: "hidden", fontFamily: FONT }}>
      {aLefts.map((l, c) => (
        <Panel key={`am${c}`} left={l} top={29} height={115} yDomain={[-1.37, 1.36]} yTicks={aMainTicks}
          yFmt={fmtA} showY={c === 0} showX={false} yFont={17} yGap={8} series={mainSeries(aMain[c], true)} />
      ))}
      {aLefts.map((l, c) => (
        <Panel key={`ae${c}`} left={l} top={164.3} height={56.7} yDomain={[-1.07, 2.08]} yTicks={aErrTicks}
          yFmt={fmtA} showY={c === 0} showX={true} yFont={17} yGap={8} series={errSeries(aErr[c], true)} />
      ))}
      {bLefts.map((l, c) => (
        <Panel key={`bm${c}`} left={l} top={289.3} height={120.7} yDomain={[-0.748, 0.656]} yTicks={bMainTicks}
          yFmt={fmtB} showY={c === 0} showX={false} yFont={18} yGap={7} series={mainSeries(bMain[c], false)} />
      ))}
      {bLefts.map((l, c) => (
        <Panel key={`be${c}`} left={l} top={425} height={60.7} yDomain={[-0.724, 0.507]} yTicks={bErrTicks}
          yFmt={fmtB} showY={c === 0} showX={true} yFont={18} yGap={7} series={errSeries(bErr[c], false)} />
      ))}
      <svg width={1042} height={590} style={{ position: "absolute", left: 0, top: 0, pointerEvents: "none" }} fontFamily={FONT}>
        <text x={8} y={19} fontSize={20} fill="#111">(a)</text>
        <text x={8} y={267} fontSize={20} fill="#111">(b)</text>
        {aLefts.map((l, c) => (
          <text key={c} x={l + PW / 2} y={21} textAnchor="middle" fontSize={17} fill="#111">
            <tspan fontStyle="italic">t</tspan>
            <tspan fontStyle="italic" fontSize={12.5} dy={4}>rollout</tspan>
            <tspan dy={-4}>{` = ${rollouts[c]}`}</tspan>
          </text>
        ))}
        <Ut x={59} y={86.5} size={17} />
        <text transform="translate(61,192.6) rotate(-90)" textAnchor="middle" fontSize={16} fill="#111">Error</text>
        <Ut x={56} y={349.6} size={18} />
        <text transform="translate(42,455) rotate(-90)" textAnchor="middle" fontSize={18} fill="#111">Error</text>
        <text x={545} y={271} textAnchor="middle" fontSize={20} fontStyle="italic" fill="#111">x</text>
        <text x={538} y={539} textAnchor="middle" fontSize={20} fontStyle="italic" fill="#111">x</text>
        <rect x={211} y={556} width={657} height={40} rx={4} fill="#fff" stroke="#d0d0d0" strokeWidth={1} />
        {legendItems.map((it, i) => (
          <g key={i}>
            <line x1={it.x1} x2={it.x2} y1={573} y2={573} stroke={it.color} strokeWidth={it.w} strokeDasharray={it.dash} />
            <text x={it.tx} y={580} fontSize={19} fill="#111">{legendNames[i]}</text>
          </g>
        ))}
      </svg>
    </div>
  )
}
